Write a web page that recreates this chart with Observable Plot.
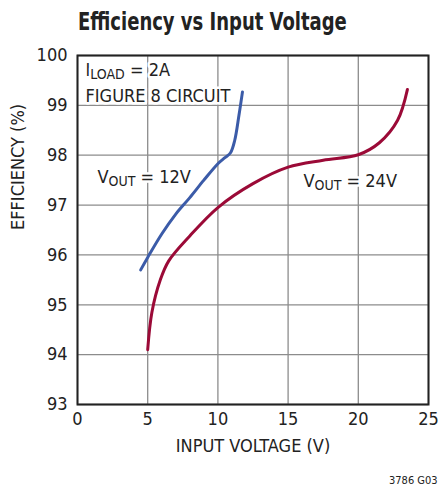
<!DOCTYPE html>
<html><head><meta charset="utf-8">
<script src="https://cdn.jsdelivr.net/npm/d3@7"></script>
<script src="https://cdn.jsdelivr.net/npm/@observablehq/plot@0.6"></script>
<style>
body{margin:0;background:#fff;font-family:"Liberation Sans Narrow","DejaVu Sans Condensed",sans-serif;color:#222;width:442px;height:496px;overflow:hidden;position:relative;}
#title{height:40px;box-sizing:border-box;padding-top:2px;}
#title span{display:inline-block;margin-left:78px;font-weight:bold;font-size:25px;line-height:40px;color:#222;transform:scaleX(0.8);transform-origin:left center;white-space:nowrap;}
#caption{position:absolute;left:389px;top:474px;font-size:11px;color:#222;}
</style></head><body>
<div id="title"><span>Efficiency vs Input Voltage</span></div>
<div id="chart"></div>
<div id="caption">3786 G03</div>
<script>
const vin12 = [4.5, 5, 6, 7, 8, 9, 10, 10.5, 10.9, 11.2, 11.5, 11.75];
const eff12 = [95.7, 95.95, 96.42, 96.82, 97.15, 97.5, 97.83, 97.95, 98.05, 98.3, 98.8, 99.27];
const vin24 = [5, 5.3, 5.9, 6.5, 8, 10, 12.5, 15, 17.5, 20, 21.5, 22.8, 23.5];
const eff24 = [94.1, 94.85, 95.5, 95.88, 96.38, 96.95, 97.43, 97.76, 97.9, 98.01, 98.25, 98.7, 99.32];
const xTicks = [0, 5, 10, 15, 20, 25];
const yTicks = [93, 94, 95, 96, 97, 98, 99, 100];
const labelText = ["FIGURE 8 CIRCUIT", "I_LOAD_ = 2A", "V_OUT_ = 12V", "V_OUT_ = 24V"];
const labelX = [0.57, 0.57, 1.42, 16.1];
const labelY = [99.19, 99.71, 97.55, 97.47];
const xLabel = "INPUT VOLTAGE (V)";
const yLabel = "EFFICIENCY (%)";
const blue = "#3b5ba8", red = "#9b0a37";

const s12 = vin12.map((v, i) => ({x: v, y: eff12[i]}));
const s24 = vin24.map((v, i) => ({x: v, y: eff24[i]}));
const labels = labelText.map((t, i) => ({t, x: labelX[i], y: labelY[i]}));

const chart = Plot.plot({
  width: 442, height: 420,
  marginTop: 15, marginBottom: 56, marginLeft: 77, marginRight: 14,
  style: {fontFamily: '"Liberation Sans Narrow","DejaVu Sans Condensed",sans-serif', fontSize: "18px", color: "#222", background: "#fff"},
  x: {domain: [0, 25], ticks: xTicks, label: null},
  y: {domain: [93, 100], ticks: yTicks, label: null},
  marks: [
    Plot.gridX(xTicks, {stroke: "#8c8c8c", strokeOpacity: 1, strokeWidth: 1.3}),
    Plot.gridY(yTicks, {stroke: "#8c8c8c", strokeOpacity: 1, strokeWidth: 1.3}),
    Plot.text(labels, {x: "x", y: "y", text: "t", textAnchor: "start", fill: "#222", stroke: "white", strokeWidth: 5, fontSize: 18}),
    Plot.line(s12, {x: "x", y: "y", stroke: blue, strokeWidth: 3, curve: "catmull-rom"}),
    Plot.line(s24, {x: "x", y: "y", stroke: red, strokeWidth: 3, curve: "catmull-rom"}),
    Plot.axisX(xTicks, {tickSize: 0, tickPadding: 8, label: null, tickFormat: d3.format("d")}),
    Plot.axisY(yTicks, {tickSize: 0, tickPadding: 10, label: null, tickFormat: d3.format("d")}),
    Plot.text([xLabel], {frameAnchor: "bottom", dy: 47, fill: "#222"}),
    Plot.text([yLabel], {frameAnchor: "left", dx: -59, rotate: -90, fill: "#222"}),
    Plot.frame({stroke: "#222", strokeWidth: 2})
  ]
});
document.getElementById("chart").appendChild(chart);

d3.select(chart).selectAll("text").each(function () {
  const t = this.textContent;
  if (!t.includes("_") || this.querySelector("tspan")) return;
  const parts = t.split("_");
  this.textContent = "";
  const el = d3.select(this);
  el.append("tspan").text(parts[0]);
  el.append("tspan").attr("dy", 3).attr("font-size", 14).text(parts[1]);
  el.append("tspan").attr("dy", -3).text(parts[2]);
});
</script>
</body></html>
